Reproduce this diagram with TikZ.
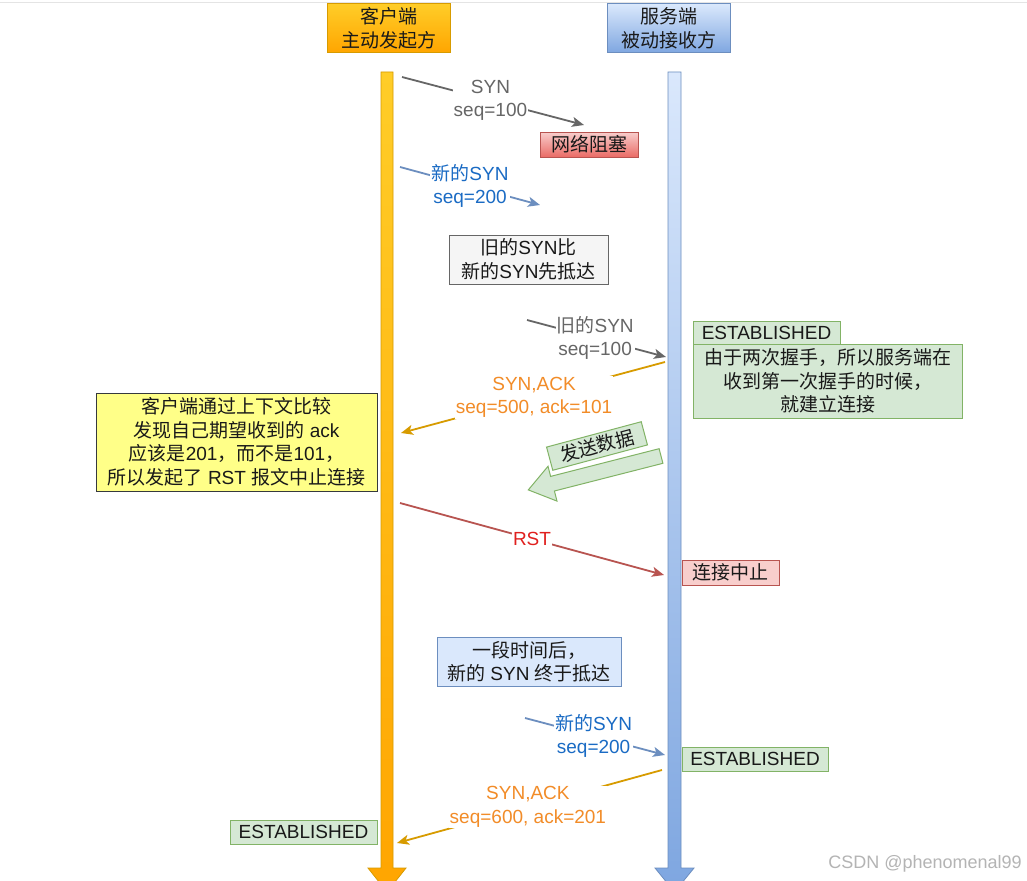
\documentclass[tikz,border=0pt]{standalone}
\usepackage{fontspec}
\setmainfont{Liberation Sans}
\newfontfamily\cjk{Noto Sans CJK SC}
\usetikzlibrary{arrows.meta}
\newcommand\zh[1]{{\cjk #1}}
\definecolor{hdrOrgTop}{HTML}{FFCD28}
\definecolor{hdrOrgBot}{HTML}{FFA500}
\definecolor{orgLine}{HTML}{D79B00}
\definecolor{bluTop}{HTML}{DAE8FC}
\definecolor{bluBot}{HTML}{7EA6E0}
\definecolor{bluLine}{HTML}{6C8EBF}
\definecolor{grnFill}{HTML}{D5E8D4}
\definecolor{grnLine}{HTML}{82B366}
\definecolor{redFill}{HTML}{F8CECC}
\definecolor{redDark}{HTML}{EA6B66}
\definecolor{redLine}{HTML}{B85450}
\definecolor{grayFill}{HTML}{F5F5F5}
\definecolor{grayLine}{HTML}{666666}
\definecolor{yelFill}{HTML}{FFFF88}
\definecolor{yelLine}{HTML}{36393D}
\definecolor{txtBlue}{HTML}{1A6BC4}
\definecolor{txtOrange}{HTML}{F28C28}
\definecolor{txtRed}{HTML}{E0201E}
\definecolor{wmGray}{HTML}{B4B4B4}
\definecolor{edgeGray}{HTML}{E4E4E4}
\tikzset{
  every node/.style={font=\fontsize{19}{23.5}\selectfont},
  box/.style={draw, line width=1pt, inner sep=0pt, align=center, text=black!90},
  lbl/.style={fill=white, inner sep=1pt, align=center},
  msg/.style={line width=1.8pt, -{Stealth[length=12pt,width=10pt,inset=3pt]}},
  greenbox/.style={box, fill=grnFill, draw=grnLine},
}
\begin{document}
\begin{tikzpicture}[x=1pt,y=-1pt]
\clip (0,0) rectangle (1027,880);
\fill[white] (0,0) rectangle (1027,880);
\draw[edgeGray, line width=1pt] (0,3) -- (1027,3);

% headers
\node[box, draw=orgLine, top color=hdrOrgTop, bottom color=hdrOrgBot,
      minimum width=123pt, minimum height=49pt] (client) at (388.5,28.5)
      {\zh{客户端}\\\zh{主动发起方}};
\node[box, draw=bluLine, top color=bluTop, bottom color=bluBot,
      minimum width=123pt, minimum height=49pt] (server) at (668.5,28.5)
      {\zh{服务端}\\\zh{被动接收方}};

% lifelines
\path[draw=orgLine, line width=0.8pt, top color=hdrOrgTop, bottom color=hdrOrgBot]
  (381,72) -- (393,72) -- (393,868) -- (406,868) -- (387,892) -- (368,868) -- (381,868) -- cycle;
\path[draw=bluLine, line width=0.8pt, top color=bluTop, bottom color=bluBot]
  (668,72) -- (681,72) -- (681,868) -- (694,868) -- (674.5,892) -- (655,868) -- (668,868) -- cycle;

% connector end points
\coordinate (a1s) at (402,77);  \coordinate (a1e) at (584,125);
\coordinate (a2s) at (400,167); \coordinate (a2e) at (540,205);
\coordinate (a3s) at (527,320); \coordinate (a3e) at (666,357);
\coordinate (a4s) at (665,362); \coordinate (a4e) at (401,433);
\coordinate (a5s) at (400,503); \coordinate (a5e) at (664,575);
\coordinate (a6s) at (525,718); \coordinate (a6e) at (665,755);
\coordinate (a7s) at (662,770); \coordinate (a7e) at (397,843);

% boxes
\node[box, draw=redLine, top color=redFill, bottom color=redDark,
      minimum width=98pt, minimum height=25pt] (block) at (589,144.5) {\zh{网络阻塞}};
\node[box, fill=grayFill, draw=grayLine, minimum width=159pt, minimum height=49pt]
      (note1) at (528.5,259.5) {\zh{旧的}SYN\zh{比}\\\zh{新的}SYN\zh{先抵达}};
\node[greenbox, minimum width=147pt, minimum height=23pt] (est1) at (766.5,332.5) {ESTABLISHED};
\node[greenbox, minimum width=269pt, minimum height=74pt] (note2) at (827.5,381)
      {\zh{由于两次握手，所以服务端在}\\\zh{收到第一次握手的时候，}\\\zh{就建立连接}};
\node[box, fill=yelFill, draw=yelLine, minimum width=281pt, minimum height=98pt]
      (note3) at (236.5,442)
      {\zh{客户端通过上下文比较}\\\zh{发现自己期望收到的} ack\\
       \zh{应该是}201\zh{，而不是}101\zh{，}\\\zh{所以发起了} RST \zh{报文中止连接}};
\node[box, fill=redFill, draw=redLine, minimum width=97pt, minimum height=25pt]
      (abort) at (730.5,572.5) {\zh{连接中止}};
\node[box, fill=bluTop, draw=bluLine, minimum width=184pt, minimum height=49pt]
      (note4) at (529,661.5) {\zh{一段时间后，}\\\zh{新的} SYN \zh{终于抵达}};
\node[greenbox, minimum width=146pt, minimum height=24pt] (est2) at (755,759) {ESTABLISHED};
\node[greenbox, minimum width=147pt, minimum height=24pt] (est3) at (303.5,832) {ESTABLISHED};

% send data block arrow
\filldraw[fill=grnFill, draw=grnLine, line width=1pt]
  (659.1,448.7) -- (550.6,476.4) -- (548.0,466.3) -- (528.3,489.9)
  -- (557.0,501.1) -- (554.4,491.0) -- (662.9,463.3) -- cycle;
\node[greenbox, rotate=15, minimum width=98pt, minimum height=24pt] (send) at (597,446) {\zh{发送数据}};

% messages
\draw[msg, grayLine] (a1s) -- node[lbl, text=grayLine, pos=0.486] (l1) {SYN\\seq=100} (a1e);
\draw[msg, bluLine] (a2s) -- node[lbl, text=txtBlue, pos=0.5] (l2) {\zh{新的}SYN\\seq=200} (a2e);
\draw[msg, grayLine] (a3s) -- node[lbl, text=grayLine, pos=0.49] (l3) {\zh{旧的}SYN\\seq=100} (a3e);
\draw[msg, orgLine] (a4s) -- node[lbl, text=txtOrange, pos=0.496] (l4) {SYN,ACK\\seq=500, ack=101} (a4e);
\draw[msg, redLine] (a5s) -- node[lbl, text=txtRed, pos=0.5] (l5) {RST} (a5e);
\draw[msg, bluLine] (a6s) -- node[lbl, text=txtBlue, pos=0.49] (l6) {\zh{新的}SYN\\seq=200} (a6e);
\draw[msg, orgLine] (a7s) -- node[lbl, text=txtOrange, pos=0.506] (l7) {SYN,ACK\\seq=600, ack=201} (a7e);

% watermark
\node[anchor=base east, text=wmGray, inner sep=0pt, font=\fontsize{18}{20}\selectfont] (wm) at (1022,868) {CSDN @phenomenal99};
\end{tikzpicture}
\end{document}
